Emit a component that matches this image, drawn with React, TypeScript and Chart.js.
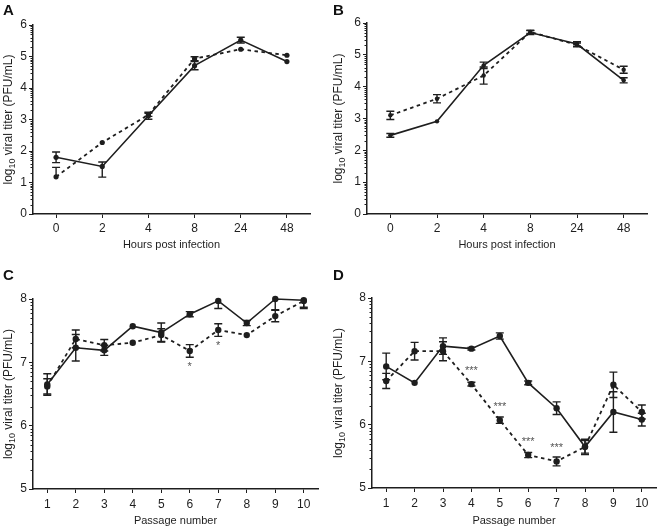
import React, { useEffect, useRef } from 'react';
import { Chart, registerables } from 'chart.js';
Chart.register(...registerables);

const FONT = "'Liberation Sans', Arial, sans-serif";
const INK = '#1e1e1e';

// ---- categories ----
const hourLabels = ['0', '2', '4', '8', '24', '48'];
const passageLabels = ['1', '2', '3', '4', '5', '6', '7', '8', '9', '10'];

// error values: a number (symmetric) or [below, above]
type Err = number | [number, number];

// ---- Panel A ----
const aSolid = [1.8, 1.51, 3.12, 4.71, 5.52, 4.84];
const aSolidErr: Err[] = [0.17, [0.34, 0.14], 0.11, 0.13, 0.09, 0];
const aDashed = [1.18, 2.27, 3.15, 4.93, 5.23, 5.04];
const aDashedErr: Err[] = [[0, 0.3], 0, 0.05, 0.06, 0, 0];

// ---- Panel B ----
const bSolid = [2.47, 2.91, 4.67, 5.7, 5.34, 4.2];
const bSolidErr: Err[] = [0.06, 0, 0.1, 0.06, 0.07, 0.08];
const bDashed = [3.1, 3.62, 4.35, 5.72, 5.31, 4.53];
const bDashedErr: Err[] = [0.13, 0.13, 0.27, 0.05, 0.06, 0.11];

// ---- Panel C ----
const cSolid = [6.65, 7.23, 7.19, 7.57, 7.47, 7.76, 7.97, 7.62, 8.0, 7.98];
const cSolidErr: Err[] = [0.17, 0.21, 0.08, 0, 0.15, 0.04, 0.12, 0.04, 0.17, 0.13];
const cDashed = [6.62, 7.37, 7.27, 7.31, 7.43, 7.18, 7.51, 7.43, 7.73, 7.97];
const cDashedErr: Err[] = [0.12, 0.14, 0.09, 0, 0.1, 0.1, 0.1, 0, 0.09, 0.1];
const cSig = ['', '', '', '', '', '*', '*', '', '', ''];

// ---- Panel D ----
const dSolid = [6.92, 6.66, 7.24, 7.2, 7.4, 6.66, 6.26, 5.65, 6.2, 6.08];
const dSolidErr: Err[] = [0.21, 0, 0.13, 0.02, 0.05, 0.03, 0.1, 0.12, 0.32, 0.1];
const dDashed = [6.69, 7.16, 7.16, 6.64, 6.07, 5.52, 5.42, 5.65, 6.63, 6.2];
const dDashedErr: Err[] = [0.12, 0.14, 0.15, 0.03, 0.05, 0.04, 0.07, 0.1, 0.2, 0.11];
const dSig = ['', '', '', '***', '***', '***', '***', '', '', ''];

const xTitleHours = 'Hours post infection';
const xTitlePassage = 'Passage number';

type PanelProps = {
  letter: string;
  labels: string[];
  solid: number[];
  solidErr: Err[];
  dashed: number[];
  dashedErr: Err[];
  sig?: string[];
  sigSide?: 'above' | 'below';
  yMin: number;
  yMax: number;
  xTitle: string;
  left: number;
  top: number;
  w: number;
  h: number;
  area: { left: number; right: number; top: number; bottom: number };
  r: number;
  tickPad: number;
  titlePad: number;
  letterBase: number;
};

function makePlugin(p: PanelProps) {
  return {
    id: 'extras' + p.letter,
    afterDatasetsDraw(chart: any) {
      const ctx = chart.ctx;
      const xs = chart.scales.x;
      const ys = chart.scales.y;
      const a = chart.chartArea;
      ctx.save();
      ctx.beginPath();
      ctx.rect(a.left - 10, a.top - 0.5, a.right - a.left + 20, a.bottom - a.top + 1);
      ctx.clip();
      ctx.strokeStyle = INK;
      ctx.lineWidth = 1.4;
      const sets: [number[], Err[]][] = [
        [p.solid, p.solidErr],
        [p.dashed, p.dashedErr],
      ];
      sets.forEach(([vals, errs]) => {
        vals.forEach((v, i) => {
          const e = errs[i];
          const lo = Array.isArray(e) ? e[0] : e;
          const hi = Array.isArray(e) ? e[1] : e;
          if (!lo && !hi) return;
          const px = xs.getPixelForValue(i);
          const yt = ys.getPixelForValue(v + hi);
          const yb = ys.getPixelForValue(v - lo);
          ctx.beginPath();
          ctx.moveTo(px, yt);
          ctx.lineTo(px, yb);
          if (hi) {
            ctx.moveTo(px - 4, yt);
            ctx.lineTo(px + 4, yt);
          }
          if (lo) {
            ctx.moveTo(px - 4, yb);
            ctx.lineTo(px + 4, yb);
          }
          ctx.stroke();
        });
      });
      ctx.restore();
    },
    afterDraw(chart: any) {
      const ctx = chart.ctx;
      const xs = chart.scales.x;
      const ys = chart.scales.y;
      const a = chart.chartArea;
      ctx.save();
      // minor log ticks
      ctx.strokeStyle = INK;
      ctx.lineWidth = 1;
      for (let n = p.yMin; n < p.yMax; n++) {
        for (let k = 2; k <= 9; k++) {
          const py = Math.round(ys.getPixelForValue(n + Math.log10(k))) + 0.5;
          ctx.beginPath();
          ctx.moveTo(a.left - 2.5, py);
          ctx.lineTo(a.left, py);
          ctx.stroke();
        }
      }
      // panel letter
      ctx.fillStyle = '#111';
      ctx.font = `bold 15px ${FONT}`;
      ctx.textBaseline = 'alphabetic';
      ctx.textAlign = 'left';
      ctx.fillText(p.letter, 3, p.letterBase);
      // y title with subscript
      ctx.fillStyle = INK;
      ctx.translate(12, (a.top + a.bottom) / 2);
      ctx.rotate(-Math.PI / 2);
      ctx.font = `12px ${FONT}`;
      const w1 = ctx.measureText('log').width;
      const w3 = ctx.measureText(' viral titer (PFU/mL)').width;
      ctx.font = `9px ${FONT}`;
      const w2 = ctx.measureText('10').width;
      let x = -(w1 + w2 + w3) / 2;
      ctx.font = `12px ${FONT}`;
      ctx.fillText('log', x, 0);
      x += w1;
      ctx.font = `9px ${FONT}`;
      ctx.fillText('10', x, 3);
      x += w2;
      ctx.font = `12px ${FONT}`;
      ctx.fillText(' viral titer (PFU/mL)', x, 0);
      ctx.restore();
      // significance marks
      if (p.sig) {
        ctx.save();
        ctx.fillStyle = '#555';
        ctx.font = `11px ${FONT}`;
        ctx.textAlign = 'center';
        ctx.textBaseline = 'alphabetic';
        p.sig.forEach((s, i) => {
          if (!s) return;
          const px = xs.getPixelForValue(i);
          const py = ys.getPixelForValue(p.dashed[i]);
          const base = p.sigSide === 'below' ? py + 19 : py - 10;
          ctx.fillText(s, px, base);
        });
        ctx.restore();
      }
    },
  };
}

function Panel(p: PanelProps) {
  const ref = useRef<HTMLCanvasElement>(null);
  useEffect(() => {
    const { area, w, h } = p;
    const tickFont = { family: FONT, size: 12 };
    const chart = new Chart(ref.current as HTMLCanvasElement, {
      type: 'line',
      data: {
        labels: p.labels,
        datasets: [
          {
            data: p.solid,
            borderColor: INK,
            backgroundColor: INK,
            borderWidth: 1.6,
            pointRadius: p.r,
            pointBackgroundColor: INK,
            pointBorderColor: INK,
            pointBorderWidth: 0,
            tension: 0,
            clip: false as any,
          },
          {
            data: p.dashed,
            borderColor: INK,
            backgroundColor: INK,
            borderWidth: 1.8,
            borderDash: [3.5, 3.5],
            pointRadius: p.r,
            pointBackgroundColor: INK,
            pointBorderColor: INK,
            pointBorderWidth: 0,
            tension: 0,
            clip: false as any,
          },
        ],
      },
      options: {
        responsive: false,
        animation: false,
        devicePixelRatio: 1,
        events: [],
        layout: { padding: { left: 0, top: area.top, right: w - area.right, bottom: 0 } },
        plugins: {
          legend: { display: false },
          tooltip: { enabled: false },
          title: { display: false },
        },
        scales: {
          x: {
            type: 'category',
            offset: true,
            grid: { display: true, drawOnChartArea: false, drawTicks: true, tickLength: 4, color: INK, lineWidth: 1 },
            border: { display: true, color: INK, width: 1.5 },
            ticks: { color: INK, font: tickFont, padding: p.tickPad, maxRotation: 0, autoSkip: false },
            title: {
              display: true,
              text: p.xTitle,
              color: INK,
              font: { family: FONT, size: 11 },
              padding: { top: 0, bottom: p.titlePad },
            },
            afterFit: (s: any) => {
              s.height = h - area.bottom;
            },
          },
          y: {
            min: p.yMin,
            max: p.yMax,
            grid: { display: true, drawOnChartArea: false, drawTicks: true, tickLength: 4, color: INK, lineWidth: 1 },
            border: { display: true, color: INK, width: 1.5 },
            ticks: { color: INK, font: tickFont, padding: 2, stepSize: 1 },
            afterFit: (s: any) => {
              s.width = area.left;
            },
          },
        },
      } as any,
      plugins: [makePlugin(p)],
    });
    return () => chart.destroy();
  }, []);
  return (
    <canvas
      ref={ref}
      width={p.w}
      height={p.h}
      style={{ position: 'absolute', left: p.left, top: p.top, width: p.w, height: p.h }}
    />
  );
}

export default function App() {
  return (
    <div style={{ position: 'fixed', left: 0, top: 0, width: 660, height: 529, background: '#fff', overflow: 'hidden' }}>
      <Panel
        letter="A"
        labels={hourLabels}
        solid={aSolid}
        solidErr={aSolidErr}
        dashed={aDashed}
        dashedErr={aDashedErr}
        yMin={0}
        yMax={6}
        xTitle={xTitleHours}
        left={0}
        top={0}
        w={330}
        h={262}
        area={{ left: 33, right: 310, top: 25, bottom: 214 }}
        r={2.6}
        tickPad={3}
        titlePad={10}
        letterBase={15}
      />
      <Panel
        letter="B"
        labels={hourLabels}
        solid={bSolid}
        solidErr={bSolidErr}
        dashed={bDashed}
        dashedErr={bDashedErr}
        yMin={0}
        yMax={6}
        xTitle={xTitleHours}
        left={330}
        top={0}
        w={330}
        h={262}
        area={{ left: 37, right: 317, top: 23, bottom: 214 }}
        r={2.2}
        tickPad={3}
        titlePad={10}
        letterBase={15}
      />
      <Panel
        letter="C"
        labels={passageLabels}
        solid={cSolid}
        solidErr={cSolidErr}
        dashed={cDashed}
        dashedErr={cDashedErr}
        sig={cSig}
        sigSide="below"
        yMin={5}
        yMax={8}
        xTitle={xTitlePassage}
        left={0}
        top={262}
        w={330}
        h={267}
        area={{ left: 33, right: 318, top: 37, bottom: 227 }}
        r={3.2}
        tickPad={4}
        titlePad={1}
        letterBase={18}
      />
      <Panel
        letter="D"
        labels={passageLabels}
        solid={dSolid}
        solidErr={dSolidErr}
        dashed={dDashed}
        dashedErr={dDashedErr}
        sig={dSig}
        sigSide="above"
        yMin={5}
        yMax={8}
        xTitle={xTitlePassage}
        left={330}
        top={262}
        w={330}
        h={267}
        area={{ left: 42, right: 328, top: 36, bottom: 226 }}
        r={3.2}
        tickPad={4}
        titlePad={1}
        letterBase={18}
      />
    </div>
  );
}
